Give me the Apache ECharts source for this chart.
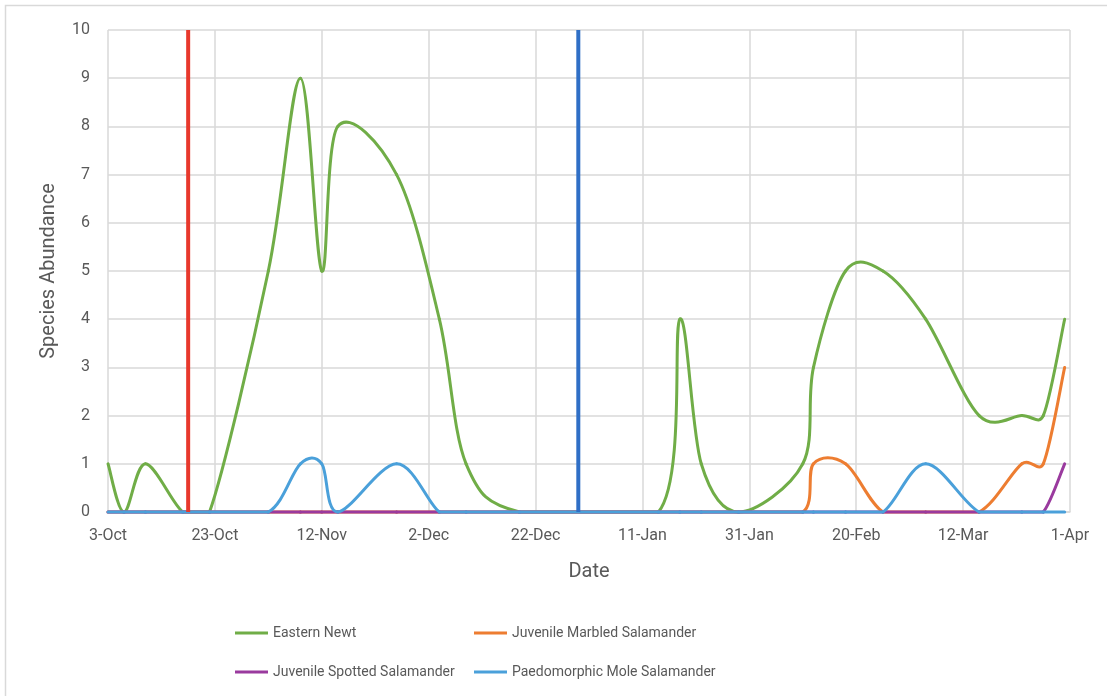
<!DOCTYPE html>
<html>
<head>
<meta charset="utf-8">
<script src="https://cdn.jsdelivr.net/npm/echarts@6/dist/echarts.min.js"></script>
<style>
  html, body { margin: 0; padding: 0; background: #ffffff; }
  #chart { width: 1107px; height: 696px; }
</style>
</head>
<body>
<div id="chart"></div>
<script>
// Survey season: counts per sampling date, Oct 2024 – Apr 2025
const startDate = '2024-10-03';
const xTickLabels = ['3-Oct', '23-Oct', '12-Nov', '2-Dec', '22-Dec', '11-Jan', '31-Jan', '20-Feb', '12-Mar', '1-Apr'];

const sampleDates = [
  '2024-10-03', '2024-10-06', '2024-10-10', '2024-10-17', '2024-10-22', '2024-11-02', '2024-11-08',
  '2024-11-12', '2024-11-15', '2024-11-26', '2024-12-04', '2024-12-09', '2024-12-19', '2025-01-14',
  '2025-01-18', '2025-01-22', '2025-01-29', '2025-02-10', '2025-02-12', '2025-02-18', '2025-02-25',
  '2025-03-05', '2025-03-15', '2025-03-23', '2025-03-27', '2025-03-31'
];
const easternNewt =       [1, 0, 1, 0, 0, 5, 9, 5, 8, 7, 4, 1, 0, 0, 4, 1, 0, 1, 3, 5, 5, 4, 2, 2, 2, 4];
const juvenileMarbled =   [0, 0, 0, 0, 0, 0, 0, 0, 0, 0, 0, 0, 0, 0, 0, 0, 0, 0, 1, 1, 0, 0, 0, 1, 1, 3];
const juvenileSpotted =   [0, 0, 0, 0, 0, 0, 0, 0, 0, 0, 0, 0, 0, 0, 0, 0, 0, 0, 0, 0, 0, 0, 0, 0, 0, 1];
const paedomorphicMole =  [0, 0, 0, 0, 0, 0, 1, 1, 0, 1, 0, 0, 0, 0, 0, 0, 0, 0, 0, 0, 0, 1, 0, 0, 0, 0];

// Dates marked with vertical reference lines
const eventDates = ['2024-10-18', '2024-12-30'];

const seriesNames = ['Eastern Newt', 'Juvenile Marbled Salamander', 'Juvenile Spotted Salamander', 'Paedomorphic Mole Salamander'];

const DAY_MS = 86400000;
function dayOf(d) {
  return Math.round((Date.parse(d) - Date.parse(startDate)) / DAY_MS);
}
function pairs(dates, values) {
  return dates.map((d, i) => [dayOf(d), values[i]]);
}

const labelColor = '#595959';
const gridColor = '#d9d9d9';
const font = 'Roboto, "Liberation Sans", sans-serif';

// Catmull-Rom style cubic segment between points i and i+1 (pixel space).
// Tangents are limited to half the segment length and kept above the zero line.
function splineSegment(px, i, baseY) {
  const n = px.length;
  const p0 = px[Math.max(i - 1, 0)], p1 = px[i], p2 = px[i + 1], p3 = px[Math.min(i + 2, n - 1)];
  const seg = Math.hypot(p2[0] - p1[0], p2[1] - p1[1]);
  function tangent(a, b) {
    let vx = (b[0] - a[0]) / 6, vy = (b[1] - a[1]) / 6;
    const len = Math.hypot(vx, vy);
    if (len > seg / 2 && len > 0) { vx *= seg / 2 / len; vy *= seg / 2 / len; }
    return [vx, vy];
  }
  const v1 = tangent(p0, p2), v2 = tangent(p1, p3);
  return {
    x1: p1[0], y1: p1[1], x2: p2[0], y2: p2[1],
    cpx1: p1[0] + v1[0], cpy1: Math.min(p1[1] + v1[1], baseY),
    cpx2: p2[0] - v2[0], cpy2: Math.min(p2[1] - v2[1], baseY)
  };
}

function curve(name, values, color, z) {
  const data = pairs(sampleDates, values);
  return {
    name: name,
    type: 'custom',
    data: data,
    encode: { x: 0, y: 1 },
    z: z,
    silent: true,
    itemStyle: { color: color },
    renderItem: function (params, api) {
      const i = params.dataIndex;
      if (i >= data.length - 1) return { type: 'group', children: [] };
      const px = data.map(p => api.coord(p));
      const baseY = api.coord([0, 0])[1];
      return {
        type: 'bezierCurve',
        shape: splineSegment(px, i, baseY),
        style: { stroke: color, lineWidth: 3, fill: null, lineCap: 'round' }
      };
    }
  };
}

function eventLine(date, color) {
  return {
    type: 'line',
    data: [[dayOf(date), 0], [dayOf(date), 10]],
    symbol: 'none',
    clip: false,
    z: 10,
    lineStyle: { color: color, width: 4 },
    emphasis: { disabled: true },
    silent: true
  };
}

function legendItem(name, left, top) {
  return {
    data: [name],
    left: left,
    top: top,
    padding: 0,
    icon: 'rect',
    itemWidth: 33,
    itemHeight: 3,
    selectedMode: false,
    textStyle: { color: labelColor, fontSize: 14, fontFamily: font }
  };
}

const chart = echarts.init(document.getElementById('chart'), null, { renderer: 'canvas' });

chart.setOption({
  backgroundColor: '#ffffff',
  animation: false,
  graphic: [{
    type: 'rect',
    shape: { x: 5.5, y: 5.5, width: 1200, height: 800 },
    style: { fill: 'none', stroke: gridColor, lineWidth: 1.5 },
    silent: true
  }],
  grid: { left: 108, right: 37, top: 30, bottom: 184, containLabel: false },
  xAxis: {
    type: 'value',
    min: 0,
    max: 180,
    interval: 20,
    name: 'Date',
    nameLocation: 'middle',
    nameGap: 50,
    nameTextStyle: { color: labelColor, fontSize: 20, fontFamily: font },
    axisLine: { show: true, lineStyle: { color: gridColor, width: 1.5 } },
    axisTick: { show: false },
    axisLabel: {
      color: labelColor, fontSize: 16, fontFamily: font, margin: 16,
      formatter: v => xTickLabels[Math.round(v / 20)] || ''
    },
    splitLine: { show: true, lineStyle: { color: gridColor, width: 1.5 } }
  },
  yAxis: {
    type: 'value',
    min: 0,
    max: 10,
    interval: 1,
    name: 'Species Abundance',
    nameLocation: 'middle',
    nameGap: 49,
    nameTextStyle: { color: labelColor, fontSize: 20, fontFamily: font },
    axisLine: { show: false },
    axisTick: { show: false },
    axisLabel: { color: labelColor, fontSize: 16, fontFamily: font, margin: 18 },
    splitLine: { show: true, lineStyle: { color: gridColor, width: 1.5 } }
  },
  legend: [
    legendItem(seriesNames[0], 235, 626),
    legendItem(seriesNames[1], 474, 626),
    legendItem(seriesNames[2], 235, 665),
    legendItem(seriesNames[3], 474, 665)
  ],
  series: [
    curve(seriesNames[0], easternNewt, '#70ad47', 2),
    curve(seriesNames[1], juvenileMarbled, '#ed7d31', 3),
    curve(seriesNames[2], juvenileSpotted, '#9a3a9e', 4),
    curve(seriesNames[3], paedomorphicMole, '#4aa0da', 5),
    eventLine(eventDates[0], '#e8382c'),
    eventLine(eventDates[1], '#2f6fc6')
  ]
});
</script>
</body>
</html>
